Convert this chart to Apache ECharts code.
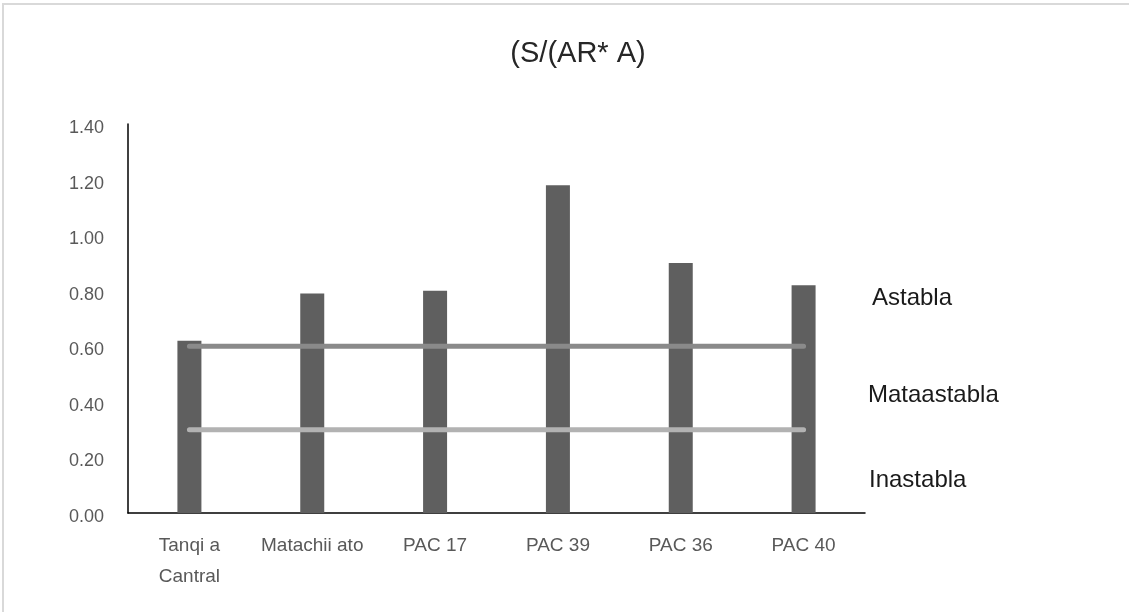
<!DOCTYPE html>
<html>
<head>
<meta charset="utf-8">
<title>(S/(AR* A)</title>
<script src="https://cdn.jsdelivr.net/npm/echarts@6/dist/echarts.min.js"></script>
<style>
  html, body { margin: 0; padding: 0; background: #ffffff; }
  #chart { width: 1129px; height: 612px; }
</style>
</head>
<body>
<div id="chart"></div>
<script>
// Categories along the x axis
const categories = ["Tanqi a\nCantral", "Matachii ato", "PAC 17", "PAC 39", "PAC 36", "PAC 40"];
// Ratio value for each site
const ratioValues = [0.62, 0.79, 0.80, 1.18, 0.90, 0.82];
// Stability thresholds drawn as horizontal lines across the sites
const upperThreshold = [0.60, 0.60, 0.60, 0.60, 0.60, 0.60];
const lowerThreshold = [0.30, 0.30, 0.30, 0.30, 0.30, 0.30];
// Y axis range and step
const yMin = 0, yMax = 1.4, yStep = 0.2;
// Zone names shown at the right
const zoneLabels = ["Astabla", "Mataastabla", "Inastabla"];

const FONT = "'Liberation Sans', Arial, sans-serif";
const chart = echarts.init(document.getElementById('chart'), null, { renderer: 'canvas' });

chart.setOption({
  backgroundColor: '#ffffff',
  animation: false,
  title: {
    text: '(S/(AR* A)',
    left: 573,
    top: 34,
    textAlign: 'center',
    textStyle: { fontFamily: FONT, fontSize: 29, fontWeight: 'normal', color: '#262626' }
  },
  grid: { left: 128, right: 264, top: 124, bottom: 99, containLabel: false },
  xAxis: {
    type: 'category',
    data: categories,
    axisLine: { show: true, lineStyle: { color: '#000000', width: 1.5 } },
    axisTick: { show: false },
    axisLabel: {
      margin: 17,
      fontFamily: FONT,
      fontSize: 19,
      lineHeight: 31,
      color: '#595959',
      interval: 0
    },
    splitLine: { show: false }
  },
  yAxis: {
    type: 'value',
    min: yMin,
    max: yMax,
    interval: yStep,
    axisLine: { show: true, lineStyle: { color: '#000000', width: 1.5 } },
    axisTick: { show: false },
    splitLine: { show: false },
    axisLabel: {
      margin: 24,
      verticalAlign: 'top',
      lineHeight: 8,
      fontFamily: FONT,
      fontSize: 18,
      color: '#595959',
      formatter: v => v.toFixed(2)
    }
  },
  series: [
    {
      name: 'ratio',
      type: 'bar',
      data: ratioValues,
      barWidth: 24,
      itemStyle: { color: '#5f5f5f' },
      z: 2
    },
    {
      name: 'upper',
      type: 'line',
      data: upperThreshold,
      symbol: 'none',
      lineStyle: { color: '#8a8a8a', width: 5, cap: 'round' },
      z: 3
    },
    {
      name: 'lower',
      type: 'line',
      data: lowerThreshold,
      symbol: 'none',
      lineStyle: { color: '#b2b2b2', width: 5, cap: 'round' },
      z: 3
    }
  ],
  graphic: [
    {
      type: 'rect',
      x: 3, y: 4,
      shape: { width: 1140, height: 630 },
      style: { fill: 'none', stroke: '#d9d9d9', lineWidth: 2 },
      silent: true
    },
    {
      type: 'text', x: 872, y: 286,
      style: { text: zoneLabels[0], font: '24px ' + FONT, fill: '#1a1a1a' }
    },
    {
      type: 'text', x: 868, y: 383,
      style: { text: zoneLabels[1], font: '24px ' + FONT, fill: '#1a1a1a' }
    },
    {
      type: 'text', x: 869, y: 468,
      style: { text: zoneLabels[2], font: '24px ' + FONT, fill: '#1a1a1a' }
    }
  ]
});
</script>
</body>
</html>
